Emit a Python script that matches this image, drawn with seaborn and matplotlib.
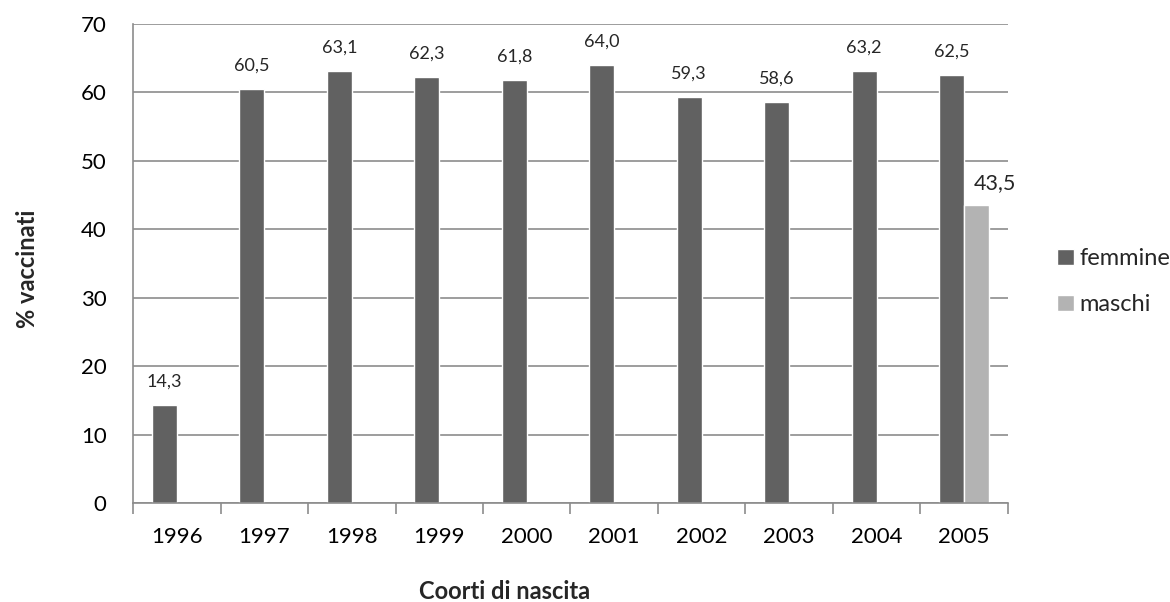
import matplotlib
matplotlib.use("Agg")
import matplotlib.pyplot as plt
import seaborn as sns
import pandas as pd

# Vaccination coverage by birth cohort
years = ["1996", "1997", "1998", "1999", "2000", "2001", "2002", "2003", "2004", "2005"]
femmine = [14.3, 60.5, 63.1, 62.3, 61.8, 64.0, 59.3, 58.6, 63.2, 62.5]
maschi_years = ["2005"]
maschi = [43.5]

series = ["femmine", "maschi"]
colors = {"femmine": "#616161", "maschi": "#b3b3b3"}

df = pd.concat([
    pd.DataFrame({"anno": years, "valore": femmine, "sesso": "femmine"}),
    pd.DataFrame({"anno": maschi_years, "valore": maschi, "sesso": "maschi"}),
], ignore_index=True)

sns.set_theme(style="white")
plt.rcParams["font.family"] = ["Lato", "DejaVu Sans"]

fig = plt.figure(figsize=(11.7, 6.02), dpi=100)
ax = fig.add_axes([0.1137, 0.1645, 0.7478, 0.7955])

sns.barplot(data=df, x="anno", y="valore", hue="sesso", order=years,
            hue_order=series, palette=colors, width=0.57, dodge=True,
            saturation=1, ax=ax, errorbar=None, legend=True)

ax.set_ylim(0, 70)
ax.set_xlim(-0.5, len(years) - 0.5)
ax.set_yticks(range(0, 71, 10))

grid_c = "#8c8c8c"
ax.yaxis.grid(True, color=grid_c, linewidth=1.2)
ax.set_axisbelow(True)
for side in ["top", "right"]:
    ax.spines[side].set_visible(False)
for side in ["left", "bottom"]:
    ax.spines[side].set_color(grid_c)
    ax.spines[side].set_linewidth(1.2)

# Category boundaries carry the x tick marks
ax.set_xticks([i + 0.5 for i in range(-1, len(years))], minor=True)
ax.tick_params(axis="x", which="minor", bottom=True, length=8, width=1.2,
               color=grid_c, direction="out")
ax.tick_params(axis="x", which="major", length=0, labelsize=16, pad=17, colors="black")
ax.tick_params(axis="y", length=8, width=1.2, color=grid_c, direction="out",
               labelsize=16, pad=11, colors="black")

def fmt(v):
    return f"{v:.1f}".replace(".", ",")

ax.bar_label(ax.containers[0], labels=[fmt(v) for v in femmine], padding=11, fontsize=13)
m_labels = ax.bar_label(ax.containers[1], labels=[fmt(v) for v in maschi],
                        padding=9, fontsize=15.5)
# nudge the male label to the right so it clears the neighbouring bar
for t in m_labels:
    t.xyann = (13, 9)

ax.set_xlabel("Coorti di nascita", fontsize=17, fontweight="bold")
ax.xaxis.set_label_coords(0.425, -0.16)
ax.set_ylabel("% vaccinati", fontsize=17, fontweight="bold")
ax.yaxis.set_label_coords(-0.108, 0.488)

ax.legend(loc="center left", bbox_to_anchor=(1.043, 0.462), frameon=False,
          fontsize=17, handlelength=0.7, handleheight=0.7,
          handletextpad=0.25, labelspacing=1.05, borderpad=0)

fig.savefig("out.png", dpi=100)
